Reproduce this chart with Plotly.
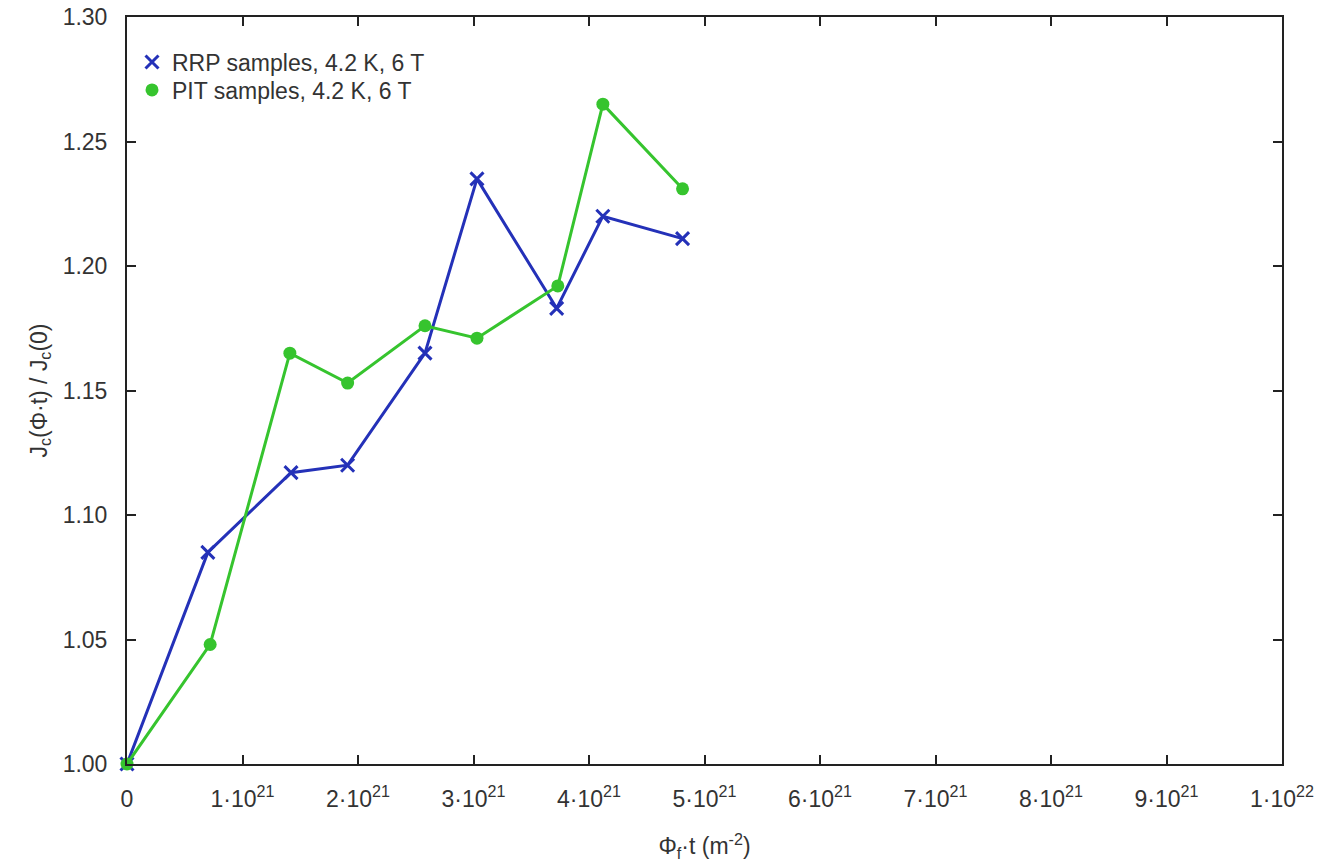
import plotly.graph_objects as go

# Data
rrp_x = [0, 0.70e21, 1.42e21, 1.91e21, 2.58e21, 3.03e21, 3.72e21, 4.12e21, 4.81e21]
rrp_y = [1.000, 1.085, 1.117, 1.120, 1.165, 1.235, 1.183, 1.220, 1.211]
pit_x = [0, 0.72e21, 1.41e21, 1.91e21, 2.58e21, 3.03e21, 3.73e21, 4.12e21, 4.81e21]
pit_y = [1.000, 1.048, 1.165, 1.153, 1.176, 1.171, 1.192, 1.265, 1.231]

x_tickvals = [0, 1e21, 2e21, 3e21, 4e21, 5e21, 6e21, 7e21, 8e21, 9e21, 1e22]
x_ticktext = ["0"] + [f"{i}·10<sup>21</sup>" for i in range(1, 10)] + ["1·10<sup>22</sup>"]
y_tickvals = [1.00, 1.05, 1.10, 1.15, 1.20, 1.25, 1.30]
y_ticktext = ["1.00", "1.05", "1.10", "1.15", "1.20", "1.25", "1.30"]

rrp_name = "RRP samples, 4.2 K, 6 T"
pit_name = "PIT samples, 4.2 K, 6 T"

blue = "#2431b8"
green = "#36c42e"
FONT = "Liberation Sans, Arial"
FS = 23
TXT = "#333"

rrp_marker = dict(symbol="x-thin", size=13, line=dict(color=blue, width=3), color=blue)
pit_marker = dict(symbol="circle", size=13, color=green)

fig = go.Figure()
fig.add_trace(go.Scatter(
    x=rrp_x, y=rrp_y, mode="lines+markers", name=rrp_name,
    line=dict(color=blue, width=3), marker=rrp_marker,
    cliponaxis=False, showlegend=False,
))
fig.add_trace(go.Scatter(
    x=pit_x, y=pit_y, mode="lines+markers", name=pit_name,
    line=dict(color=green, width=3), marker=pit_marker,
    cliponaxis=False, showlegend=False,
))
# legend-only entries (marker only, like the reference key)
fig.add_trace(go.Scatter(x=[None], y=[None], mode="markers", name=rrp_name,
                         marker=rrp_marker, legend="legend"))
fig.add_trace(go.Scatter(x=[None], y=[None], mode="markers", name=pit_name,
                         marker=pit_marker, legend="legend2"))

axis_common = dict(
    showline=True, linecolor="#222", linewidth=2, mirror="ticks",
    ticks="inside", ticklen=9, tickwidth=2, tickcolor="#222",
    showgrid=False, zeroline=False, automargin=False,
    tickfont=dict(family=FONT, size=FS, color=TXT),
)

legend_common = dict(xanchor="left", yanchor="middle", bgcolor="rgba(0,0,0,0)",
                     font=dict(family=FONT, size=FS, color=TXT), itemwidth=30)

fig.update_layout(
    width=1323, height=862,
    margin=dict(l=127, r=41, t=17, b=98),
    paper_bgcolor="white", plot_bgcolor="white",
    font=dict(family=FONT, size=FS, color=TXT),
    showlegend=True,
    legend=dict(x=5 / 1155, y=1 - (62 - 17) / 747, **legend_common),
    legend2=dict(x=5 / 1155, y=1 - (90 - 17) / 747, **legend_common),
    xaxis=dict(range=[0, 1e22], tickvals=x_tickvals, ticktext=x_ticktext,
               ticklabelstandoff=13,
               title=dict(text="Φ<sub>f</sub>·t (m<sup>-2</sup>)", standoff=28,
                          font=dict(family=FONT, size=FS, color=TXT)),
               **axis_common),
    yaxis=dict(range=[1.0, 1.30], tickvals=y_tickvals, ticktext=y_ticktext,
               ticklabelstandoff=13,
               title=dict(text="J<sub>c</sub>(Φ·t) / J<sub>c</sub>(0)", standoff=9,
                          font=dict(family=FONT, size=FS, color=TXT)),
               **axis_common),
)

fig.write_html("out.html")
